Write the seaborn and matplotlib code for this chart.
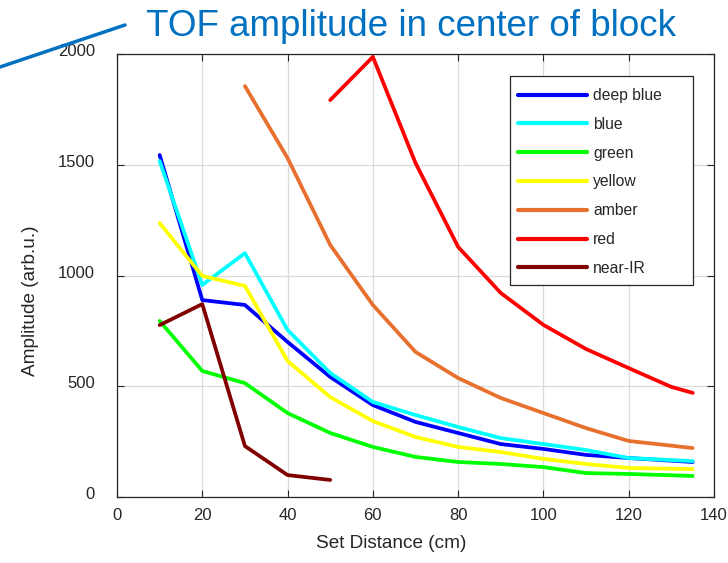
import numpy as np
import pandas as pd
import matplotlib
matplotlib.use("Agg")
import matplotlib.pyplot as plt
import matplotlib.transforms as mtransforms
import seaborn as sns
from matplotlib.lines import Line2D
from matplotlib.patches import Rectangle

# ---- data ----
x_main = [10, 20, 30, 40, 50, 60, 70, 80, 90, 100, 110, 120, 135]
deep_blue = [1544, 889, 867, 700, 542, 415, 339, 289, 239, 217, 190, 176, 158]
blue      = [1517, 957, 1101, 754, 560, 429, 370, 316, 266, 239, 212, 176, 162]
green     = [795, 569, 514, 379, 289, 226, 181, 158, 149, 135, 108, 104, 95]
yellow    = [1237, 998, 953, 614, 451, 343, 271, 226, 203, 172, 149, 131, 126]
x_amber = [30, 40, 50, 60, 70, 80, 90, 100, 110, 120, 135]
amber   = [1855, 1530, 1138, 867, 655, 537, 447, 379, 311, 253, 221]
x_red = [50, 60, 70, 80, 90, 100, 110, 120, 130, 135]
red   = [1792, 1987, 1508, 1129, 921, 777, 668, 582, 497, 470]
x_nir = [10, 20, 30, 40, 50]
near_ir = [776, 871, 230, 99, 77]

labels = ["deep blue", "blue", "green", "yellow", "amber", "red", "near-IR"]
colors = ["#0000FF", "#00FFFF", "#00FF00", "#FFFF00", "#E8702E", "#FF0000", "#800000"]
xticks = [0, 20, 40, 60, 80, 100, 120, 140]
yticks = [0, 500, 1000, 1500, 2000]

series = [(x_main, deep_blue), (x_main, blue), (x_main, green), (x_main, yellow),
          (x_amber, amber), (x_red, red), (x_nir, near_ir)]
rows = []
for lab, (xs, ys) in zip(labels, series):
    for xv, yv in zip(xs, ys):
        rows.append({"dist": xv, "amp": yv, "LED": lab})
df = pd.DataFrame(rows)

sns.set_style("white")
plt.rcParams["font.family"] = ["Liberation Sans", "DejaVu Sans"]

fig = plt.figure(figsize=(7.28, 5.63), dpi=100)
AX_L, AX_B, AX_W, AX_H = 117, 66, 597, 443   # pixels
ax = fig.add_axes([AX_L/728, AX_B/563, AX_W/728, AX_H/563])

sns.lineplot(data=df, x="dist", y="amp", hue="LED", hue_order=labels,
             palette=dict(zip(labels, colors)), linewidth=2.7, ax=ax,
             sort=False, estimator=None)

ax.set_xlim(0, 140)
ax.set_ylim(0, 2000)
ax.set_xticks(xticks)
ax.set_yticks(yticks)
ax.set_xticklabels([str(t) for t in xticks], fontsize=12, color="#262626")
ax.set_yticklabels([str(t) for t in yticks], fontsize=12, color="#262626")
ax.grid(True, color="#DADADA", linewidth=0.9)
ax.set_axisbelow(True)
for s in ax.spines.values():
    s.set_color("#262626")
    s.set_linewidth(0.9)
ax.tick_params(direction="in", length=5, top=True, right=True, left=True, bottom=True,
               color="#262626")
ax.tick_params(axis="y", pad=16)
ax.tick_params(axis="x", pad=8)
offset = mtransforms.ScaledTranslation(0, 4/100, fig.dpi_scale_trans)
for lbl in ax.get_yticklabels():
    lbl.set_transform(lbl.get_transform() + offset)

ax.set_xlabel("Set Distance (cm)", fontsize=13.7, color="#262626")
ax.set_ylabel("Amplitude (arb.u.)", fontsize=13.7, color="#262626")
ax.xaxis.label.set_va("center")
ax.yaxis.label.set_va("center")
ax.xaxis.set_label_coords((391-117)/597, -(543-497)/443)
ax.yaxis.set_label_coords(-(117-30)/597, (497-301)/443)

def px_to_ax(xp, yp):
    return (xp - AX_L) / AX_W, (563 - AX_B - yp) / AX_H

lx, ly = px_to_ax(518, 88)
leg = ax.legend(loc="upper left", bbox_to_anchor=(lx, ly), borderaxespad=0,
                fontsize=11.3, handlelength=4.4, labelspacing=0.88, frameon=False,
                borderpad=0, handletextpad=0.4)
for h in leg.get_lines():
    h.set_linewidth(3)

bx0, by1 = px_to_ax(510, 76)
bx1, by0 = px_to_ax(693, 285)
frame = Rectangle((bx0, by0), bx1 - bx0, by1 - by0, transform=ax.transAxes,
                  facecolor="white", edgecolor="#262626", linewidth=0.9, zorder=4)
ax.add_patch(frame)
leg.set_zorder(5)

fig.text(411/728, 1 - 36/563, "TOF amplitude in center of block", color="#0070C0",
         fontsize=26.5, ha="center", va="baseline")
fig.add_artist(Line2D([0, 125/728], [1 - 67/563, 1 - 25/563], color="#0070C0",
                      linewidth=2.5, transform=fig.transFigure))

fig.savefig("out.png", dpi=100)
